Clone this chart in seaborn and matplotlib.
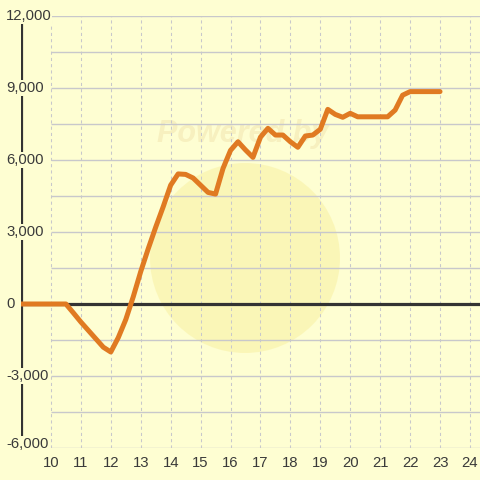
import matplotlib
matplotlib.use("Agg")
import matplotlib.pyplot as plt
from matplotlib.patches import Circle
import seaborn as sns
import pandas as pd

# ---- data ----
hours = [9.0, 10.5, 10.75, 11.0, 11.25, 11.5, 11.75, 12.0, 12.25, 12.5, 12.75,
         13.0, 13.25, 13.5, 13.75, 14.0, 14.25, 14.5, 14.75, 15.0, 15.25, 15.5,
         15.75, 16.0, 16.25, 16.5, 16.75, 17.0, 17.25, 17.5, 17.75, 18.0, 18.25,
         18.5, 18.75, 19.0, 19.25, 19.5, 19.75, 20.0, 20.25, 20.5, 20.75, 21.0,
         21.25, 21.5, 21.75, 22.0, 22.25, 22.5, 22.75, 23.0]
profit = [0, 0, -370, -750, -1100, -1450, -1800, -2000, -1400, -650, 300,
          1350, 2300, 3200, 4050, 4950, 5420, 5400, 5250, 4950, 4650, 4580,
          5650, 6400, 6760, 6420, 6110, 6950, 7320, 7040, 7040, 6760, 6530,
          7000, 7040, 7280, 8110, 7900, 7780, 7945, 7800, 7800, 7800, 7800,
          7800, 8080, 8700, 8850, 8850, 8850, 8850, 8850]
x_ticks = list(range(10, 25))
y_ticks = [-6000, -3000, 0, 3000, 6000, 9000, 12000]
y_grid = [-6000, -4500, -3000, -1500, 0, 1500, 3000, 4500, 6000, 7500, 9000, 10500, 12000]

BG = "#fefed2"
TXT = "#3a3a3a"
ORANGE = "#e07a22"
GRID = "#c8c8cb"

sns.set_style("white")
plt.rcParams["font.family"] = ["Liberation Sans", "DejaVu Sans"]

fig = plt.figure(figsize=(4.8, 4.8), dpi=100, facecolor=BG)
ax = fig.add_axes([21 / 480, 32 / 480, 459 / 480, 432 / 480])
ax.set_facecolor(BG)
for s in ax.spines.values():
    s.set_visible(False)

ax.set_xlim(9, 9 + 459 / 29.93)
ax.set_ylim(-6000, 12000)

# watermark
circ = Circle((2.45, 2.22), 0.95, transform=fig.dpi_scale_trans,
              facecolor="#f8ef9e", alpha=0.5, edgecolor="none", zorder=0.5)
ax.add_patch(circ)
ax.text(2.43 / 4.8, 1 - 1.34 / 4.8, "Powered by", transform=fig.transFigure,
        ha="center", va="center", fontsize=22, fontweight="bold",
        fontstyle="italic", color="#f7f0bf", zorder=0.4)

# grid
ax.hlines(y_grid, 10, ax.get_xlim()[1], colors=GRID, linewidth=1.0, zorder=1)
ax.vlines(x_ticks, -6000, 12000, colors=GRID, linewidth=0.75,
          linestyles=(0, (3, 3)), zorder=1)

# axes lines
ax.axhline(0, color="#333333", linewidth=2.3, zorder=2)
ax.vlines(9, -6000, 12000, colors="#333333", linewidth=2.3, zorder=2)

# line
df = pd.DataFrame({"hour": hours, "profit": profit})
sns.lineplot(data=df, x="hour", y="profit", ax=ax, color=ORANGE, linewidth=3.6,
             zorder=3)
ax.set_xlabel("")
ax.set_ylabel("")

# x ticks
ax.set_xticks(x_ticks)
ax.set_xticklabels([str(t) for t in x_ticks])
ax.tick_params(axis="x", length=0, pad=6, labelsize=10.7, labelcolor=TXT)
ax.set_yticks([])

# y labels
trans = ax.get_yaxis_transform()
for v in y_ticks:
    va = "baseline" if v == y_ticks[0] else "center"
    ax.text(-15 / 459, v, f"{v:,}", transform=trans, ha="left", va=va,
            fontsize=10.7, color=TXT, zorder=5, clip_on=False,
            bbox=dict(boxstyle="square,pad=0.05", facecolor=BG, edgecolor="none"))

fig.savefig("out.png", dpi=100, facecolor=BG)
